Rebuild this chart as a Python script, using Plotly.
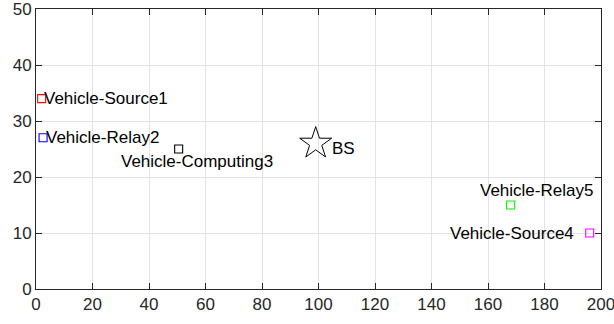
import plotly.graph_objects as go

# Node layout (metres)
names = ["Vehicle-Source1", "Vehicle-Relay2", "Vehicle-Computing3",
         "Vehicle-Source4", "Vehicle-Relay5"]
node_x = [2, 2.5, 50.5, 196, 168]
node_y = [34, 27, 25, 10, 15]
node_colors = ["#ff0000", "#0000ff", "#000000", "#ff00ff", "#00ff00"]

bs_name = "BS"
bs_x = 99
bs_y = 26

# label placement relative to each node (pixels)
label_anchor = ["left", "left", "center", "right", "center"]
label_dx = [0, 1, 18, -14, 26]
label_dy = [0, 0, -12, 0, 15]

x_ticks = list(range(0, 201, 20))
y_ticks = list(range(0, 51, 10))

FONT = "Liberation Sans, Arial, sans-serif"
AXIS_COLOR = "#262626"

fig = go.Figure()

for n, x, y, c in zip(names, node_x, node_y, node_colors):
    fig.add_trace(go.Scatter(
        x=[x], y=[y], mode="markers", name=n,
        marker=dict(symbol="square-open", size=8, color=c, line=dict(width=1.1, color=c)),
        cliponaxis=False,
    ))

fig.add_trace(go.Scatter(
    x=[bs_x], y=[bs_y], mode="markers", name=bs_name,
    marker=dict(symbol="star-open", size=24, color="black", line=dict(width=1, color="black")),
))

for n, x, y, a, dx, dy in zip(names, node_x, node_y, label_anchor, label_dx, label_dy):
    fig.add_annotation(x=x, y=y, text=n, showarrow=False, xanchor=a, yanchor="middle",
                       xshift=dx, yshift=dy, font=dict(family=FONT, size=17, color="black"))

fig.add_annotation(x=bs_x, y=bs_y, text=bs_name, showarrow=False, xanchor="left",
                   yanchor="middle", xshift=14, yshift=-5,
                   font=dict(family=FONT, size=17, color="black"))

axis_common = dict(
    showline=True, linecolor=AXIS_COLOR, linewidth=1, mirror="ticks",
    ticks="inside", ticklen=6, tickcolor=AXIS_COLOR, tickwidth=1,
    showgrid=True, gridcolor="#e3e3e3", gridwidth=1, zeroline=False,
    tickfont=dict(family=FONT, size=17, color=AXIS_COLOR),
    automargin=False, ticklabeloverflow="allow",
)

fig.update_xaxes(range=[0, 200], tickvals=x_ticks, **axis_common)
fig.update_yaxes(range=[0, 50], tickvals=y_ticks, **axis_common)

fig.update_layout(
    width=614, height=324,
    margin=dict(l=35.5, r=13, t=9, b=35.3),
    paper_bgcolor="white", plot_bgcolor="white",
    showlegend=False,
)

fig.write_html("out.html")
